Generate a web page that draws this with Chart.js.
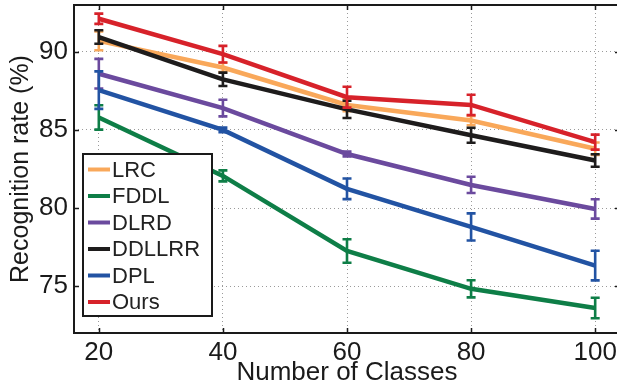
<!DOCTYPE html>
<html>
<head>
<meta charset="utf-8">
<script src="https://cdn.jsdelivr.net/npm/chart.js@4/dist/chart.umd.min.js"></script>
<style>
  html, body { margin: 0; padding: 0; background: #ffffff; overflow: hidden; }
  #wrap { width: 617px; height: 387px; overflow: hidden; position: relative; }
  #box { width: 625px; height: 387px; position: absolute; left: 0; top: 0; }
</style>
</head>
<body>
<div id="wrap"><div id="box"><canvas id="c"></canvas></div></div>
<script>
// Number of classes on the x axis
const classes = [20, 40, 60, 80, 100];
const xTicks = [20, 40, 60, 80, 100];
const yTicks = [75, 80, 85, 90];

// Mean recognition rate (%) and standard deviation for each method
const lrc      = [90.7, 89.0, 86.6, 85.6, 83.8];
const lrcErr   = [0.6, 0.3, 0.4, 0.3, 0.4];
const fddl     = [85.8, 82.06, 77.25, 74.83, 73.6];
const fddlErr  = [0.78, 0.35, 0.75, 0.55, 0.66];
const dlrd     = [88.6, 86.4, 83.46, 81.48, 79.94];
const dlrdErr  = [0.95, 0.53, 0.15, 0.52, 0.62];
const ddllrr   = [90.95, 88.24, 86.32, 84.66, 83.04];
const ddllrrErr= [0.43, 0.43, 0.55, 0.48, 0.4];
const dpl      = [87.55, 85.0, 81.23, 78.79, 76.32];
const dplErr   = [1.2, 0.15, 0.66, 0.87, 0.95];
const ours     = [92.12, 89.85, 87.1, 86.6, 84.22];
const oursErr  = [0.33, 0.53, 0.67, 0.65, 0.48];

const FONT = '"Liberation Sans", Arial, Helvetica, sans-serif';

function series(label, values, errs, color, order) {
  return {
    label: label,
    data: classes.map((c, i) => ({ x: c, y: values[i] })),
    errors: errs,
    borderColor: color,
    backgroundColor: color,
    borderWidth: 4.5,
    pointRadius: 0,
    tension: 0,
    order: order
  };
}

// Vertical error bars with caps, drawn right after each line so the layering follows the series order
const errorBars = {
  id: 'errorBars',
  afterDatasetDraw(chart, args) {
    const ds = chart.data.datasets[args.index];
    const xs = chart.scales.x, ys = chart.scales.y;
    const ctx = chart.ctx;
    const area = chart.chartArea;
    ctx.save();
    ctx.beginPath();
    ctx.rect(area.left, area.top, area.right - area.left, area.bottom - area.top);
    ctx.clip();
    ctx.strokeStyle = ds.borderColor;
    ctx.lineWidth = 2.6;
    ctx.lineCap = 'butt';
    ds.data.forEach((p, i) => {
      const e = ds.errors[i];
      const px = xs.getPixelForValue(p.x);
      const top = ys.getPixelForValue(p.y + e);
      const bot = ys.getPixelForValue(p.y - e);
      const w = 4.5;
      ctx.beginPath();
      ctx.moveTo(px, top); ctx.lineTo(px, bot);
      ctx.moveTo(px - w, top); ctx.lineTo(px + w, top);
      ctx.moveTo(px - w, bot); ctx.lineTo(px + w, bot);
      ctx.stroke();
    });
    ctx.restore();
  }
};

// Axes box with inward tick marks on all four sides
const axesBox = {
  id: 'axesBox',
  afterDatasetsDraw(chart) {
    const ctx = chart.ctx;
    const a = chart.chartArea;
    const xs = chart.scales.x, ys = chart.scales.y;
    ctx.save();
    ctx.strokeStyle = '#1a1a1a';
    ctx.lineWidth = 1.5;
    const t = 5;
    ctx.beginPath();
    xTicks.forEach(v => {
      const px = Math.round(xs.getPixelForValue(v)) + 0.5;
      ctx.moveTo(px, a.bottom); ctx.lineTo(px, a.bottom - t);
      ctx.moveTo(px, a.top); ctx.lineTo(px, a.top + t);
    });
    yTicks.forEach(v => {
      const py = Math.round(ys.getPixelForValue(v)) + 0.5;
      ctx.moveTo(a.left, py); ctx.lineTo(a.left + t, py);
      ctx.moveTo(a.right, py); ctx.lineTo(a.right - t, py);
    });
    ctx.stroke();
    ctx.lineWidth = 2;
    ctx.strokeRect(a.left, a.top, a.right - a.left, a.bottom - a.top);
    ctx.restore();
  }
};

// Boxed legend inside the plot area, lower left
const boxLegend = {
  id: 'boxLegend',
  afterDraw(chart) {
    const ctx = chart.ctx;
    const x0 = 83, y0 = 154, w = 129, h = 162;
    ctx.save();
    ctx.fillStyle = '#ffffff';
    ctx.fillRect(x0, y0, w, h);
    ctx.strokeStyle = '#1a1a1a';
    ctx.lineWidth = 2;
    ctx.strokeRect(x0, y0, w, h);
    ctx.font = '22px ' + FONT;
    ctx.textBaseline = 'middle';
    ctx.textAlign = 'left';
    chart.data.datasets.forEach((ds, i) => {
      const y = y0 + 15.5 + i * 26.5;
      ctx.strokeStyle = ds.borderColor;
      ctx.lineWidth = 4;
      ctx.beginPath();
      ctx.moveTo(x0 + 5, y); ctx.lineTo(x0 + 27, y);
      ctx.stroke();
      ctx.fillStyle = '#222222';
      ctx.fillText(ds.label, x0 + 29, y + 1);
    });
    ctx.restore();
  }
};

function noEdgePadding(s) {
  s.paddingTop = 0; s.paddingBottom = 0; s.paddingLeft = 0; s.paddingRight = 0;
}

new Chart(document.getElementById('c'), {
  type: 'line',
  data: {
    datasets: [
      series('LRC', lrc, lrcErr, '#f9a85a', 6),
      series('FDDL', fddl, fddlErr, '#0e7e47', 5),
      series('DLRD', dlrd, dlrdErr, '#6b4a9e', 4),
      series('DDLLRR', ddllrr, ddllrrErr, '#1e1c1c', 3),
      series('DPL', dpl, dplErr, '#2253a3', 2),
      series('Ours', ours, oursErr, '#d7222a', 1)
    ]
  },
  options: {
    responsive: true,
    maintainAspectRatio: false,
    animation: false,
    layout: { padding: { top: 5, right: 5, left: 0, bottom: 0 } },
    plugins: { legend: { display: false }, tooltip: { enabled: false } },
    scales: {
      x: {
        type: 'linear',
        min: 16, max: 104,
        afterBuildTicks: s => { s.ticks = xTicks.map(v => ({ value: v })); },
        afterFit: s => { s.height = 54; noEdgePadding(s); },
        border: { display: false, dash: [1, 3] },
        grid: { color: '#9a9a9a', lineWidth: 1, drawTicks: false },
        ticks: { color: '#1a1a1a', font: { family: FONT, size: 26 }, padding: 4, maxRotation: 0 },
        title: { display: true, text: 'Number of Classes', color: '#1a1a1a',
                 font: { family: FONT, size: 26 }, padding: { top: 0, bottom: -1 } }
      },
      y: {
        min: 72, max: 93,
        afterBuildTicks: s => { s.ticks = yTicks.map(v => ({ value: v })); },
        afterFit: s => { s.width = 74; noEdgePadding(s); },
        border: { display: false, dash: [1, 3] },
        grid: { color: '#9a9a9a', lineWidth: 1, drawTicks: false },
        ticks: { color: '#1a1a1a', font: { family: FONT, size: 26 }, padding: 6 },
        title: { display: true, text: 'Recognition rate (%)', color: '#1a1a1a',
                 font: { family: FONT, size: 25 }, padding: { top: 6, bottom: 0 } }
      }
    }
  },
  plugins: [errorBars, axesBox, boxLegend]
});
</script>
</body>
</html>
